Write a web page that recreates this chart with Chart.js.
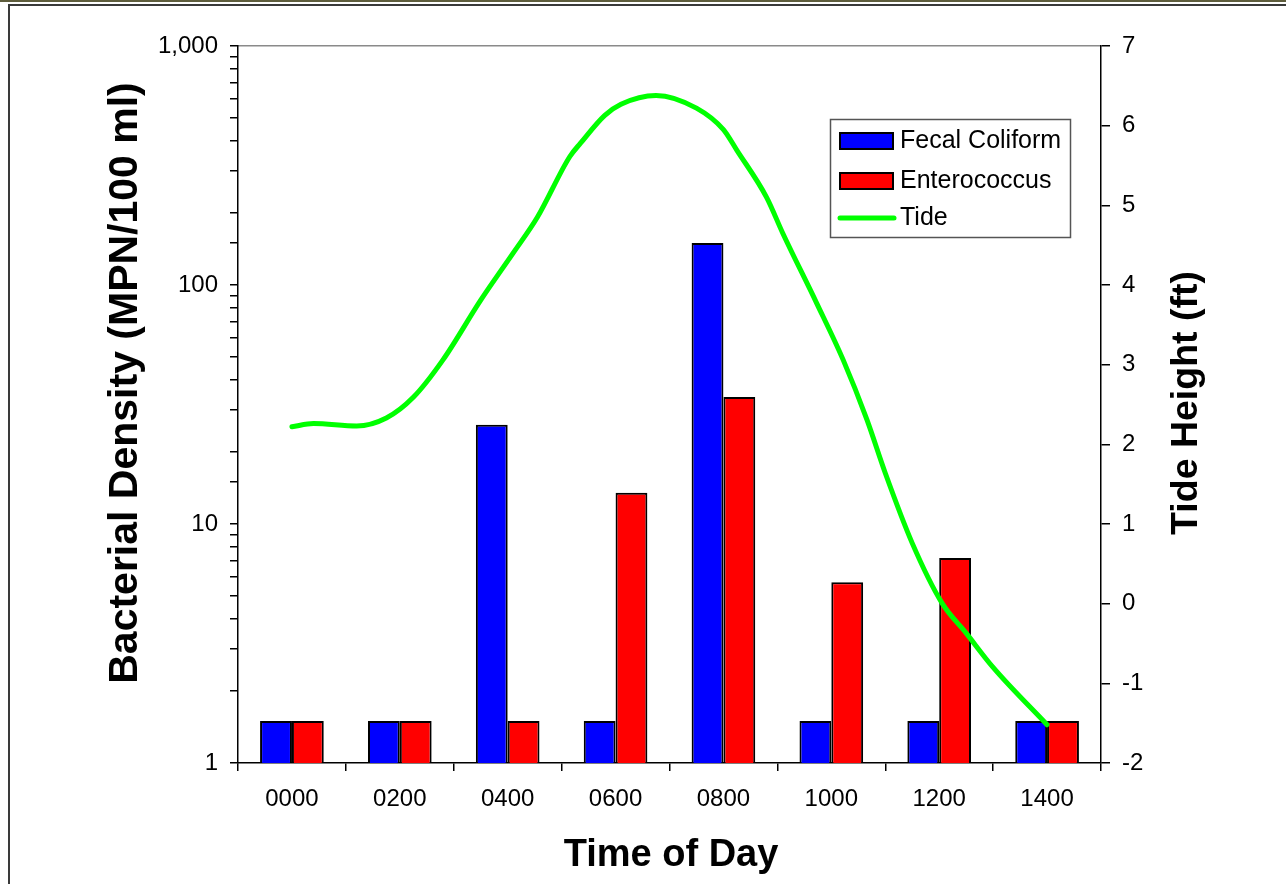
<!DOCTYPE html>
<html>
<head>
<meta charset="utf-8">
<script src="https://cdn.jsdelivr.net/npm/chart.js@4.4.1/dist/chart.umd.min.js"></script>
<style>
  html, body { margin: 0; padding: 0; background: #fff; overflow: hidden; }
  #strip { position: absolute; left: 0; top: 0; width: 1286px; height: 2px; background: #5e5d3c; }
  #frame { position: absolute; left: 8px; top: 4px; width: 1300px; height: 900px; border: 2px solid #3a3a3a; box-sizing: border-box; }
  canvas { position: absolute; left: 0; top: 0; }
</style>
</head>
<body>
<div id="strip"></div>
<div id="frame"></div>
<canvas id="bars" width="1286" height="884"></canvas>
<canvas id="tide" width="1286" height="884"></canvas>
<script>
// ---- Data ----
const timeLabels = ['0000', '0200', '0400', '0600', '0800', '1000', '1200', '1400'];
const fecalColiform = [1.5, 1.5, 26, 1.5, 150, 1.5, 1.5, 1.5];
const enterococcus = [1.5, 1.5, 1.5, 13.5, 34, 5.7, 7.2, 1.5];
const tideHours = [0, 0.4, 1.2, 1.75, 2.25, 2.8, 3.5, 4.1, 4.55, 5.15, 5.35, 5.8, 6.1, 6.75, 7.5, 8.0, 8.25, 8.8, 9.1, 9.73, 10.22, 10.66, 11.0, 11.5, 12.05, 12.5, 13.0, 14.0];
const tideFeet  = [2.22, 2.26, 2.23, 2.33, 2.59, 3.06, 3.81, 4.40, 4.85, 5.61, 5.78, 6.13, 6.27, 6.38, 6.22, 5.95, 5.69, 5.10, 4.65, 3.77, 3.06, 2.31, 1.64, 0.76, 0.01, -0.37, -0.80, -1.52];
const leftTicksMajor = [1, 10, 100, 1000];
const rightTickStep = 1;

const FONT = "'Liberation Sans', Arial, sans-serif";
// plot-area geometry shared by both chart layers
const AREA = { left: 238, right: 185, top: 46, bottom: 121 };

const fecalDs = { type: 'bar', label: 'Fecal Coliform', data: fecalColiform, backgroundColor: '#0000FF', borderColor: '#000', borderWidth: 2,
  categoryPercentage: 0.59, barPercentage: 1.0 };
const enteroDs = { type: 'bar', label: 'Enterococcus', data: enterococcus, backgroundColor: '#FF0000', borderColor: '#000', borderWidth: 2,
  categoryPercentage: 0.59, barPercentage: 1.0 };
const tideDs = { type: 'line', label: 'Tide', data: tideHours.map((h, i) => ({ x: h, y: tideFeet[i] })), borderColor: '#00FF00', backgroundColor: '#00FF00',
  borderWidth: 5, pointRadius: 0, cubicInterpolationMode: 'monotone', borderCapStyle: 'round', borderJoinStyle: 'round' };

const titlesAndLegend = {
  id: 'titlesAndLegend',
  afterDraw(chart) {
    const ctx = chart.ctx;
    ctx.save();
    ctx.fillStyle = '#000';
    ctx.font = 'bold 38px ' + FONT;
    ctx.textAlign = 'center';
    ctx.textBaseline = 'alphabetic';
    ctx.fillText('Time of Day', 671, 866);
    ctx.save();
    ctx.translate(137, 383);
    ctx.rotate(-Math.PI / 2);
    ctx.font = 'bold 41px ' + FONT;
    ctx.fillText('Bacterial Density (MPN/100 ml)', 0, 0);
    ctx.restore();
    ctx.save();
    ctx.translate(1197, 403);
    ctx.rotate(-Math.PI / 2);
    ctx.font = 'bold 37.5px ' + FONT;
    ctx.fillText('Tide Height (ft)', 0, 0);
    ctx.restore();

    // Legend
    const items = [fecalDs, enteroDs, tideDs];
    ctx.fillStyle = '#fff';
    ctx.fillRect(830, 119, 241, 119);
    ctx.strokeStyle = '#555';
    ctx.lineWidth = 1.5;
    ctx.strokeRect(830.5, 119.5, 240, 118);
    ctx.font = '25px ' + FONT;
    ctx.textAlign = 'left';
    ctx.textBaseline = 'middle';
    const rows = [141, 181, 218];
    for (let i = 0; i < 2; i++) {
      ctx.fillStyle = items[i].backgroundColor;
      ctx.fillRect(840, rows[i] - 8, 53, 16);
      ctx.strokeStyle = '#000';
      ctx.lineWidth = 2;
      ctx.strokeRect(840, rows[i] - 8, 53, 16);
      ctx.fillStyle = '#000';
      ctx.fillText(items[i].label, 900, rows[i]);
    }
    ctx.strokeStyle = items[2].borderColor;
    ctx.lineWidth = 5;
    ctx.lineCap = 'round';
    ctx.beginPath();
    ctx.moveTo(840, rows[2]);
    ctx.lineTo(894, rows[2]);
    ctx.stroke();
    ctx.fillStyle = '#000';
    ctx.fillText(items[2].label, 900, rows[2]);
    ctx.restore();
  }
};

// Layer 1: bars, axes, titles, legend
new Chart(document.getElementById('bars'), {
  type: 'bar',
  data: { labels: timeLabels, datasets: [fecalDs, enteroDs] },
  options: {
    responsive: false,
    animation: false,
    layout: { padding: 0 },
    plugins: { legend: { display: false }, tooltip: { enabled: false } },
    scales: {
      x: {
        type: 'category', position: 'bottom', offset: true,
        grid: { drawOnChartArea: false, drawTicks: true, tickLength: 8, color: '#000', lineWidth: 1.5, offset: true },
        border: { display: true, color: '#000', width: 1.5 },
        ticks: { color: '#000', font: { family: FONT, size: 24 }, padding: 14, autoSkip: false, maxRotation: 0 },
        afterFit(s) { s.height = AREA.bottom; }
      },
      xTop: {
        type: 'linear', position: 'top', min: 0, max: 1,
        ticks: { display: false },
        grid: { drawOnChartArea: false, drawTicks: false },
        border: { display: true, color: '#8a8a8a', width: 1.5 },
        afterFit(s) { s.height = AREA.top; }
      },
      y: {
        type: 'logarithmic', position: 'left', min: 1, max: 1000,
        grid: { drawOnChartArea: false, drawTicks: true, tickLength: 8, color: '#000', lineWidth: 1.5 },
        border: { display: true, color: '#000', width: 1.5 },
        ticks: {
          color: '#000', font: { family: FONT, size: 24 }, padding: 12, autoSkip: false,
          callback(v) { return leftTicksMajor.includes(v) ? v.toLocaleString('en-US') : ''; }
        },
        afterFit(s) { s.width = AREA.left; }
      },
      y2: {
        type: 'linear', position: 'right', min: -2, max: 7,
        grid: { drawOnChartArea: false, drawTicks: true, tickLength: 9, color: '#000', lineWidth: 1.5 },
        border: { display: true, color: '#000', width: 1.5 },
        ticks: { color: '#000', font: { family: FONT, size: 24 }, padding: 12, stepSize: rightTickStep, autoSkip: false },
        afterFit(s) { s.width = AREA.right; }
      }
    }
  },
  plugins: [titlesAndLegend]
});

// Layer 2: tide line on the same plot area (hours -1..15 map to category edges; feet -2..7)
new Chart(document.getElementById('tide'), {
  type: 'line',
  data: { datasets: [tideDs] },
  options: {
    responsive: false,
    animation: false,
    layout: { padding: { left: AREA.left, right: AREA.right, top: AREA.top, bottom: AREA.bottom } },
    plugins: { legend: { display: false }, tooltip: { enabled: false } },
    scales: {
      x: { type: 'linear', min: -1, max: 15, display: false },
      y: { type: 'linear', min: -2, max: 7, display: false }
    }
  }
});
</script>
</body>
</html>
